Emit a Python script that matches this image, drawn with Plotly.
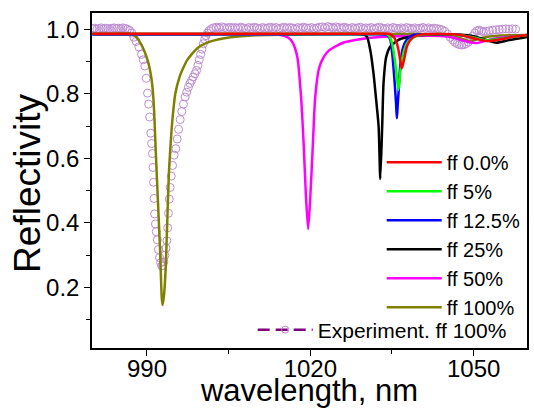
import plotly.graph_objects as go

# ---- data ----
# simulated spectra, wavelength (nm) / reflectivity
wl_ff0 = [980, 1000, 1020, 1030, 1034.5, 1035.2, 1035.6, 1035.9, 1036.2, 1036.5, 1036.8, 1037.05, 1037.3,
          1037.7, 1038.2, 1038.7, 1040.2, 1044, 1047.5, 1050, 1052.4, 1054.8, 1057, 1059.8]
r_ff0 = [0.986, 0.986, 0.986, 0.986, 0.985, 0.978, 0.968, 0.955, 0.935, 0.905, 0.879, 0.893, 0.912,
         0.944, 0.962, 0.973, 0.983, 0.985, 0.982, 0.972, 0.963, 0.968, 0.976, 0.982]

wl_ff5 = [980, 1000, 1020, 1030, 1034.1, 1034.6, 1035.0, 1035.3, 1035.6, 1035.9, 1036.2, 1036.5, 1036.8,
          1037.1, 1037.5, 1038.0, 1039.6, 1042, 1047, 1050, 1052.2, 1054.8, 1057, 1059.8]
r_ff5 = [0.985, 0.985, 0.985, 0.985, 0.984, 0.975, 0.957, 0.93, 0.895, 0.85, 0.812, 0.864, 0.9,
         0.926, 0.948, 0.962, 0.979, 0.984, 0.982, 0.974, 0.966, 0.97, 0.976, 0.982]

wl_ff125 = [980, 1000, 1020, 1030, 1034.1, 1034.7, 1035.1, 1035.5, 1035.75, 1035.9, 1036.05, 1036.2,
            1036.5, 1037.0, 1037.7, 1038.95, 1042, 1047, 1050, 1052.2, 1054.8, 1057, 1059.8]
r_ff125 = [0.984, 0.984, 0.984, 0.984, 0.982, 0.967, 0.915, 0.833, 0.77, 0.724, 0.765, 0.802,
           0.884, 0.941, 0.967, 0.982, 0.984, 0.982, 0.974, 0.966, 0.97, 0.976, 0.982]

wl_ff25 = [980, 1000, 1020, 1027, 1029.8, 1030.4, 1031.0, 1031.6, 1032.1, 1032.55, 1032.85, 1033.2,
           1033.45, 1033.95, 1034.7, 1036.2, 1037.7, 1040.2, 1046, 1050, 1052.5, 1054.2, 1056.5, 1059.8]
r_ff25 = [0.985, 0.985, 0.985, 0.985, 0.983, 0.977, 0.936, 0.864, 0.78, 0.698, 0.536, 0.698,
          0.833, 0.915, 0.946, 0.967, 0.975, 0.982, 0.984, 0.978, 0.965, 0.958, 0.966, 0.976]

wl_ff50 = [980, 1000, 1010, 1014.5, 1015.9, 1016.7, 1017.6, 1018.3, 1018.8, 1019.2, 1019.6, 1020.0,
           1020.45, 1020.9, 1021.6, 1022.5, 1023.5, 1026, 1029.1, 1032.2, 1038, 1045, 1048.7, 1050.6,
           1052.4, 1055, 1059.8]
r_ff50 = [0.983, 0.983, 0.983, 0.982, 0.974, 0.96, 0.915, 0.79, 0.637, 0.482, 0.381, 0.482,
          0.637, 0.79, 0.879, 0.915, 0.935, 0.958, 0.969, 0.975, 0.979, 0.978, 0.962, 0.957,
          0.965, 0.974, 0.98]

wl_ff100 = [980, 984, 986.4, 987.6, 988.8, 990.1, 990.7, 991.0, 991.3, 991.6, 992.0, 992.4, 992.7,
            992.85, 993.1, 993.45, 993.75, 994.05, 994.4, 994.7, 995.2, 996.0, 996.5, 997.4, 999.25,
            1001.7, 1005.4, 1010, 1020, 1030, 1040, 1045, 1047.5, 1049.3, 1051.2, 1054.8, 1059.8]
r_ff100 = [0.985, 0.985, 0.986, 0.982, 0.957, 0.905, 0.86, 0.822, 0.75, 0.626, 0.471, 0.317, 0.172,
           0.146, 0.172, 0.265, 0.42, 0.564, 0.66, 0.725, 0.8, 0.853, 0.874, 0.905, 0.941,
           0.962, 0.975, 0.981, 0.984, 0.985, 0.985, 0.982, 0.972, 0.963, 0.972, 0.98, 0.982]

# measured spectrum
exp_wl = [980.0, 980.4, 980.8, 981.2, 981.6, 982.0, 982.4, 982.8, 983.2, 983.6, 984.0, 984.4, 984.8,
          985.2, 985.6, 986.0, 986.4, 986.8, 987.2, 987.6, 988.0, 988.5, 989.0, 989.3, 989.6, 989.85,
          990.1, 990.3, 990.5, 990.7, 990.85, 991.0, 991.1, 991.2, 991.3, 991.4, 991.55, 991.7, 991.9,
          992.1, 992.3, 992.5, 992.7, 992.9, 993.1, 993.3, 993.5, 993.65, 993.8, 993.95, 994.1, 994.25,
          994.45, 994.7, 995.0, 995.3, 995.55, 995.8, 996.1, 996.4, 996.7, 997.0, 997.3, 997.6, 997.9,
          998.2, 998.5, 998.8, 999.1, 999.35, 999.6, 999.85, 1000.1, 1000.35, 1000.6, 1000.85, 1001.1,
          1001.4, 1001.8, 1002.2, 1002.7, 1003.2, 1003.7, 1004.2, 1004.7, 1005.2, 1005.7, 1006.2,
          1006.7, 1007.2, 1007.7, 1008.2, 1008.7, 1009.2, 1009.7, 1010.2, 1010.7, 1011.2, 1011.7,
          1012.2, 1012.7, 1013.2, 1013.7, 1014.2, 1014.7, 1015.2, 1015.7, 1016.2, 1016.7, 1017.2,
          1017.7, 1018.2, 1018.7, 1019.2, 1019.7, 1020.2, 1020.7, 1021.2, 1021.7, 1022.2, 1022.7,
          1023.2, 1023.7, 1024.2, 1024.7, 1025.2, 1025.7, 1026.2, 1026.7, 1027.2, 1027.7, 1028.2,
          1028.7, 1029.2, 1029.7, 1030.2, 1030.7, 1031.2, 1031.7, 1032.2, 1032.7, 1033.2, 1033.7,
          1034.2, 1034.7, 1035.2, 1035.7, 1036.2, 1036.7, 1037.2, 1037.7, 1038.2, 1038.7, 1039.2,
          1039.7, 1040.2, 1040.7, 1041.2, 1041.7, 1042.2, 1042.7, 1043.2, 1043.7, 1044.2, 1044.7,
          1045.2, 1045.7, 1046.2, 1046.6, 1047.0, 1047.4, 1047.8, 1048.2, 1048.6, 1049.0, 1049.4,
          1049.8, 1050.2, 1050.6, 1051.0, 1051.4, 1051.8, 1052.3, 1052.9, 1053.5, 1054.1, 1054.7,
          1055.3, 1055.9, 1056.5, 1057.1, 1057.7, 1058.3, 1058.9, 1059.5]
exp_r = [1.001, 1.003, 1.000, 1.002, 1.004, 1.001, 1.003, 1.002, 1.000, 1.003, 1.004, 1.002, 1.003,
         1.001, 1.004, 1.002, 1.000, 0.996, 0.988, 0.975, 0.962, 0.945, 0.922, 0.905, 0.886, 0.848,
         0.802, 0.768, 0.728, 0.678, 0.646, 0.615, 0.572, 0.526, 0.476, 0.428, 0.397, 0.373, 0.348,
         0.318, 0.293, 0.277, 0.267, 0.268, 0.28, 0.3, 0.322, 0.345, 0.385, 0.43, 0.474, 0.51,
         0.545, 0.578, 0.61, 0.63, 0.66, 0.69, 0.72, 0.745, 0.768, 0.79, 0.805, 0.82, 0.832,
         0.842, 0.852, 0.862, 0.872, 0.888, 0.905, 0.922, 0.938, 0.955, 0.968, 0.98, 0.988,
         0.995, 1.0, 1.004, 1.006, 1.004, 1.007, 1.005, 1.003, 1.006, 1.004, 1.005, 1.003,
         1.006, 1.004, 1.002, 1.005, 1.003, 1.006, 1.004, 1.002, 1.005, 1.003, 1.004, 1.006,
         1.003, 1.005, 1.002, 1.004, 1.006, 1.003, 1.005, 1.004, 1.002, 1.005, 1.003, 1.006,
         1.004, 1.003, 1.005, 1.002, 1.004, 1.006, 1.007, 1.005, 1.008, 1.006, 1.004, 1.007,
         1.005, 1.003, 1.006, 1.004, 1.002, 1.005, 1.003, 1.004, 1.006, 1.002, 1.004, 1.003,
         1.005, 1.002, 1.004, 1.006, 1.003, 1.001, 1.004, 1.002, 1.005, 1.003, 1.001, 1.004,
         1.002, 1.005, 1.003, 1.001, 1.004, 1.002, 1.003, 1.005, 1.002, 1.004, 1.001, 1.003,
         1.002, 1.000, 0.998, 0.993, 0.985, 0.975, 0.966, 0.959, 0.955, 0.952, 0.951, 0.952,
         0.955, 0.96, 0.968, 0.978, 0.988, 0.995, 0.997, 0.994, 0.992, 0.993, 0.995, 0.997,
         0.998, 0.999, 1.0, 1.001, 1.0, 1.001, 1.0]

series = [
    # name, x, y, colour
    ("ff 100%", wl_ff100, r_ff100, "#808000"),
    ("ff 50%", wl_ff50, r_ff50, "#FF00FF"),
    ("ff 25%", wl_ff25, r_ff25, "#000000"),
    ("ff 12.5%", wl_ff125, r_ff125, "#0000FF"),
    ("ff 5%", wl_ff5, r_ff5, "#00FF00"),
    ("ff 0.0%", wl_ff0, r_ff0, "#FF0000"),
]

font = "Liberation Sans, Arial, sans-serif"

fig = go.Figure()

# experiment drawn first so the simulated lines sit on top
fig.add_trace(go.Scatter(x=exp_wl, y=exp_r, mode="markers", showlegend=False,
                         marker=dict(symbol="circle-open", size=8, color="#BE8CD2",
                                     line=dict(width=1))))

for name, x, y, colour in series:
    fig.add_trace(go.Scatter(x=x, y=y, mode="lines", name=name,
                             line=dict(color=colour, width=2.5, shape="spline", smoothing=0.6),
                             legend="legend"))

# legend-only entry for the measured data (line + symbol sample)
fig.add_trace(go.Scatter(x=[None], y=[None], mode="lines+markers", name="Experiment. ff 100%",
                         line=dict(color="#800080", width=2.5, dash="12px,6px"),
                         marker=dict(symbol="circle-open", size=7, color="#C080D0"),
                         legend="legend2"))

fig.update_layout(
    width=534, height=408,
    margin=dict(l=92, r=7, t=13, b=60),
    paper_bgcolor="white", plot_bgcolor="white",
    font=dict(family=font, size=24, color="black"),
    legend=dict(x=0.666, y=0.613, xanchor="left", yanchor="top", bgcolor="rgba(0,0,0,0)",
                traceorder="reversed", font=dict(size=20), itemwidth=55,
                tracegroupgap=0),
    legend2=dict(x=0.3694, y=0.115, xanchor="left", yanchor="top", bgcolor="rgba(0,0,0,0)",
                 font=dict(size=21), itemwidth=55),
    xaxis=dict(range=[979.9, 1059.8], tickvals=[990, 1020, 1050], ticks="outside", ticklen=6,
               tickwidth=1.2, tickcolor="black", showline=True, linecolor="black", linewidth=1.5,
               mirror=True, showgrid=False, zeroline=False, automargin=False,
               ticklabelstandoff=-8,
               minor=dict(tickvals=[1005, 1035], ticks="outside", ticklen=4, tickcolor="black"),
               title=dict(text="wavelength, nm", font=dict(size=31), standoff=0)),
    yaxis=dict(range=[0.013, 1.05], tickvals=[0.2, 0.4, 0.6, 0.8, 1.0], tickformat=".1f",
               ticks="outside", ticklen=6, tickwidth=1.2, tickcolor="black", showline=True,
               linecolor="black", linewidth=1.5, mirror=True, showgrid=False, zeroline=False,
               automargin=False,
               minor=dict(tickvals=[0.1, 0.3, 0.5, 0.7, 0.9], ticks="outside", ticklen=4,
                          tickcolor="black")),
)

# y title as a rotated annotation so it can sit exactly where the original has it
fig.add_annotation(text="Reflectivity", xref="paper", yref="paper", x=-0.147, y=0.49,
                   xanchor="center", yanchor="middle", textangle=-90, showarrow=False,
                   font=dict(size=37))

# the page body has a default 8px margin; drop it so the figure sits at the window corner
fig.write_html("out.html", config={"displayModeBar": False},
               post_script="document.body.style.margin='0';")
